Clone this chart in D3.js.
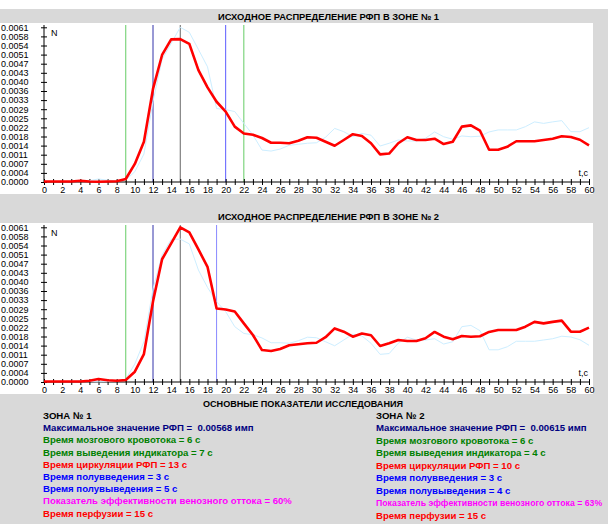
<!DOCTYPE html>
<html>
<head>
<meta charset="utf-8">
<script src="https://cdn.jsdelivr.net/npm/d3@7"></script>
<style>
  body { margin: 0; background: #fff; }
  svg { display: block; font-family: "Liberation Sans", Arial, sans-serif; }
</style>
</head>
<body>
<script>
// seconds 0..60
var seconds = d3.range(0, 61);

// zone 1 curve
var zone1 = [0.00002, 0.00002, 0.00002, 0.00002, 0.00005, 0.00002, 0.00001, 0.00002, 0.00003, 0.00012,
  0.00072, 0.0016, 0.0037, 0.00505, 0.00567, 0.00568, 0.00549, 0.00445, 0.00376, 0.00319,
  0.0028, 0.0022, 0.00193, 0.00188, 0.00175, 0.00156, 0.00156, 0.00154, 0.00164, 0.00178,
  0.00176, 0.0016, 0.00144, 0.00167, 0.0019, 0.00183, 0.00154, 0.0011, 0.00113, 0.00154,
  0.00178, 0.00167, 0.00167, 0.00172, 0.00151, 0.0016, 0.0022, 0.00225, 0.00204, 0.00128,
  0.00128, 0.0014, 0.00162, 0.00162, 0.00162, 0.00167, 0.00172, 0.00182, 0.00179, 0.00168,
  0.00146];

// zone 2 curve
var zone2 = [0.00002, 0.00002, 0.00002, 0.00002, 0.00002, 0.00005, 0.00012, 0.00007, 0.00005, 0.00008,
  0.00041, 0.00111, 0.0032, 0.00488, 0.00551, 0.00615, 0.00595, 0.00527, 0.00458, 0.00292,
  0.00288, 0.0028, 0.00233, 0.00187, 0.00127, 0.00123, 0.00131, 0.00146, 0.0015, 0.00154,
  0.00156, 0.00178, 0.00213, 0.002, 0.0018, 0.00193, 0.00186, 0.00143, 0.00154, 0.00167,
  0.00163, 0.00163, 0.00174, 0.00199, 0.0018, 0.0017, 0.00183, 0.0018, 0.00182, 0.00199,
  0.00207, 0.00207, 0.00207, 0.0022, 0.00239, 0.00233, 0.00239, 0.00244, 0.002, 0.002,
  0.00216];

var yMax = 0.00615;
var yTickLabels = ["0.0000", "0.0004", "0.0007", "0.0011", "0.0014", "0.0018", "0.0022", "0.0025", "0.0029",
  "0.0033", "0.0036", "0.0040", "0.0043", "0.0047", "0.0051", "0.0054", "0.0058", "0.0061"];

// vertical markers (time, colour)
var markers1 = [[9, "#66cc66"], [12, "#3333aa"], [15, "#666666"], [20, "#5c5cff"], [22, "#66cc66"]];
var markers2 = [[9, "#66cc66"], [12, "#3333aa"], [15, "#666666"], [19, "#8888ff"]];

var titles = ["ИСХОДНОЕ РАСПРЕДЕЛЕНИЕ РФП В ЗОНЕ № 1", "ИСХОДНОЕ РАСПРЕДЕЛЕНИЕ РФП В ЗОНЕ № 2"];
var summaryTitle = "ОСНОВНЫЕ ПОКАЗАТЕЛИ ИССЛЕДОВАНИЯ";

var summary1 = [
  ["ЗОНА № 1", "#000000"],
  ["Максимальное значение РФП =  0.00568 имп", "#000080"],
  ["Время мозгового кровотока = 6 с", "#008000"],
  ["Время выведения индикатора = 7 с", "#008000"],
  ["Время циркуляции РФП = 13 с", "#ff0000"],
  ["Время полувведения = 3 с", "#0000ff"],
  ["Время полувыведения = 5 с", "#0000ff"],
  ["Показатель эффективности венозного оттока = 60%", "#ff00ff"],
  ["Время перфузии = 15 с", "#ff0000"]
];
var summary2 = [
  ["ЗОНА № 2", "#000000"],
  ["Максимальное значение РФП =  0.00615 имп", "#000080"],
  ["Время мозгового кровотока = 6 с", "#008000"],
  ["Время выведения индикатора = 4 с", "#008000"],
  ["Время циркуляции РФП = 10 с", "#ff0000"],
  ["Время полувведения = 3 с", "#0000ff"],
  ["Время полувыведения = 4 с", "#0000ff"],
  ["Показатель эффективности венозного оттока = 63%", "#ff00ff"],
  ["Время перфузии = 15 с", "#ff0000"]
];

var W = 608, H = 524;
var svg = d3.select("body").append("svg").attr("width", W).attr("height", H);

// grey form background
svg.append("rect").attr("x", 0).attr("y", 9).attr("width", W).attr("height", H - 9).attr("fill", "#d9d9d9");

var x = d3.scaleLinear().domain([0, 60]).range([44, 589]);
var y = d3.scaleLinear().domain([0, yMax]).range([182, 27.3]);

var line = d3.line()
  .x(function (d, i) { return x(seconds[i]); })
  .y(function (d) { return y(d); });

function drawPanel(offset, title, main, other, markers) {
  var g = svg.append("g").attr("transform", "translate(0," + offset + ")");

  g.append("rect").attr("x", 0).attr("y", 23).attr("width", 593).attr("height", 171).attr("fill", "#fff");

  g.append("text")
    .attr("x", 218).attr("y", 19.5)
    .attr("textLength", 221).attr("lengthAdjust", "spacingAndGlyphs")
    .style("font-size", "9px").style("font-weight", "bold")
    .text(title);

  // marker lines
  markers.forEach(function (m) {
    g.append("line")
      .attr("x1", x(m[0])).attr("x2", x(m[0]))
      .attr("y1", 25).attr("y2", 182)
      .attr("stroke", m[1]).attr("stroke-width", 1);
  });

  // y axis
  var yAxis = d3.axisLeft(y)
    .tickValues(yTickLabels.map(function (d, i) { return i * yMax / 17; }))
    .tickFormat(function (d, i) { return yTickLabels[i]; })
    .tickSizeOuter(0);
  var ya = g.append("g").attr("transform", "translate(44,0)").call(yAxis);
  ya.select(".domain").remove();
  ya.append("line").attr("x1", 0).attr("x2", 0).attr("y1", 25).attr("y2", 182).attr("stroke", "#000");
  ya.selectAll(".tick line").attr("x1", -3).attr("x2", 3);
  ya.selectAll(".tick text")
    .attr("x", -43).attr("text-anchor", "start")
    .style("font-size", "9px").style("font-family", "Liberation Sans, Arial, sans-serif")
    .attr("fill", "#000");

  // x axis
  var xAxis = d3.axisBottom(x)
    .tickValues(seconds)
    .tickFormat(function (d) { return d % 2 === 0 ? d : ""; })
    .tickSizeOuter(0);
  var xa = g.append("g").attr("transform", "translate(0,182)").call(xAxis);
  xa.select(".domain").remove();
  xa.append("line").attr("x1", 44).attr("x2", 589).attr("y1", 0).attr("y2", 0).attr("stroke", "#000");
  xa.selectAll(".tick line").attr("y1", -3).attr("y2", 3);
  xa.selectAll(".tick text")
    .attr("y", 5)
    .style("font-size", "9px").style("font-family", "Liberation Sans, Arial, sans-serif")
    .attr("fill", "#000");

  g.append("text").attr("x", 51).attr("y", 36).style("font-size", "9px").text("N");
  g.append("text").attr("x", 588).attr("y", 176).attr("text-anchor", "end").style("font-size", "9px").text("t,c");

  // faint curve of the other zone
  g.append("path").datum(other)
    .attr("d", line).attr("fill", "none")
    .attr("stroke", "#cdeeff").attr("stroke-width", 1);

  g.append("path").datum(main)
    .attr("d", line).attr("fill", "none")
    .attr("stroke", "#ff0000").attr("stroke-width", 2.6)
    .attr("stroke-linejoin", "round");
}

drawPanel(0, titles[0], zone1, zone2, markers1);
drawPanel(200, titles[1], zone2, zone1, markers2);

svg.append("text")
  .attr("x", 203).attr("y", 406.5)
  .attr("textLength", 200).attr("lengthAdjust", "spacingAndGlyphs")
  .style("font-size", "9px").style("font-weight", "bold")
  .text(summaryTitle);

function drawSummary(rows, left, top, step) {
  var fs = 9.6;
  svg.append("g").selectAll("text")
    .data(rows)
    .enter().append("text")
    .attr("x", left)
    .attr("y", function (d, i) { return top + i * step; })
    .attr("fill", function (d) { return d[1]; })
    .style("font-size", fs + "px").style("font-weight", "bold")
    .style("white-space", "pre")
    .text(function (d) { return d[0]; })
    .each(function () {
      // shrink a row that would run past the right edge
      var len = this.getComputedTextLength();
      if (left + len > W - 6) {
        d3.select(this).style("font-size", (fs * (W - 6 - left) / len).toFixed(2) + "px");
      }
    });
}

drawSummary(summary1, 43, 419, 12.2);
drawSummary(summary2, 376, 419, 12.45);
</script>
</body>
</html>
